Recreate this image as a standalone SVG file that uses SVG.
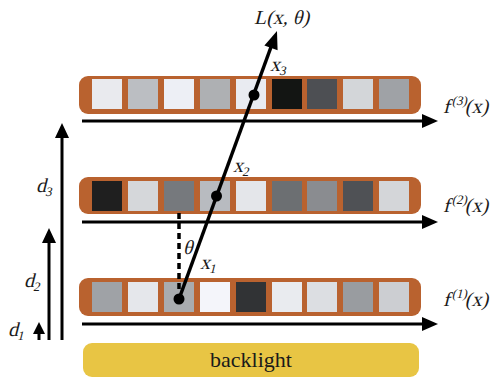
<svg xmlns="http://www.w3.org/2000/svg" width="499" height="378" viewBox="0 0 499 378">
<defs>
<style>
.bar{fill:#B9622F;}
.ax{stroke:#000;stroke-width:3;fill:none;}
.hd{fill:#000;}
</style>
</defs>
<rect width="499" height="378" fill="#fff"/>

<g id="backlight">
<rect x="83" y="343" width="336" height="34" rx="9" fill="#E8C544"/>
<text x="251" y="367" text-anchor="middle" font-family="Liberation Serif" font-size="22" fill="#1a1a1a">backlight</text>
</g>

<g id="layer3">
<rect class="bar" x="79" y="76" width="342" height="38" rx="9"/>
<rect x="92" y="79" width="30" height="30" fill="#E9EAEE"/>
<rect x="128" y="79" width="30" height="30" fill="#BBBEC2"/>
<rect x="164" y="79" width="30" height="30" fill="#EDEFF5"/>
<rect x="200" y="79" width="30" height="30" fill="#AEB0B3"/>
<rect x="236" y="79" width="30" height="30" fill="#E9EBF1"/>
<rect x="272" y="79" width="30" height="30" fill="#131513"/>
<rect x="307" y="79" width="30" height="30" fill="#4D4F53"/>
<rect x="343" y="79" width="30" height="30" fill="#D3D6D9"/>
<rect x="379" y="79" width="30" height="30" fill="#9FA2A6"/>
<text transform="translate(443,113) skewX(-14)" font-family="Liberation Serif" font-size="20" fill="#1a1a1a">f<tspan dy="-8" font-size="13">(3)</tspan><tspan dy="8">(x)</tspan></text>
</g>

<g id="layer2">
<rect class="bar" x="79" y="177" width="342" height="37" rx="9"/>
<rect x="92" y="181" width="30" height="30" fill="#1F1F1F"/>
<rect x="128" y="181" width="30" height="30" fill="#D5D7DA"/>
<rect x="164" y="181" width="30" height="30" fill="#76797D"/>
<rect x="200" y="181" width="30" height="30" fill="#B8BBC0"/>
<rect x="236" y="181" width="30" height="30" fill="#E4E6EA"/>
<rect x="272" y="181" width="30" height="30" fill="#6C6F72"/>
<rect x="307" y="181" width="30" height="30" fill="#8A8C90"/>
<rect x="343" y="181" width="30" height="30" fill="#4F5155"/>
<rect x="379" y="181" width="30" height="30" fill="#D4D6D9"/>
<text transform="translate(443,212) skewX(-14)" font-family="Liberation Serif" font-size="20" fill="#1a1a1a">f<tspan dy="-8" font-size="13">(2)</tspan><tspan dy="8">(x)</tspan></text>
</g>

<g id="layer1">
<rect class="bar" x="79" y="278" width="342" height="38" rx="9"/>
<rect x="92" y="282" width="30" height="30" fill="#9FA2A6"/>
<rect x="128" y="282" width="30" height="30" fill="#E5E7EB"/>
<rect x="164" y="282" width="30" height="30" fill="#A9ACAF"/>
<rect x="200" y="282" width="30" height="30" fill="#F4F5FA"/>
<rect x="236" y="282" width="30" height="30" fill="#313335"/>
<rect x="272" y="282" width="30" height="30" fill="#E9EBEF"/>
<rect x="307" y="282" width="30" height="30" fill="#DCDEE2"/>
<rect x="343" y="282" width="30" height="30" fill="#999CA0"/>
<rect x="379" y="282" width="30" height="30" fill="#CCCED2"/>
<text transform="translate(443,306) skewX(-14)" font-family="Liberation Serif" font-size="20" fill="#1a1a1a">f<tspan dy="-8" font-size="13">(1)</tspan><tspan dy="8">(x)</tspan></text>
</g>

<g id="connectors">
<line class="ax" x1="82" y1="121" x2="425" y2="121"/>
<polygon class="hd" points="438,121 422,114 422,128"/>
<line class="ax" x1="82" y1="222" x2="425" y2="222"/>
<polygon class="hd" points="438,222 422,215 422,229"/>
<line class="ax" x1="82" y1="324" x2="425" y2="324"/>
<polygon class="hd" points="438,324 422,317 422,331"/>
<line class="ax" x1="62" y1="340" x2="62" y2="135"/>
<polygon class="hd" points="62,123 55,138 69,138"/>
<line class="ax" x1="49" y1="340" x2="49" y2="240"/>
<polygon class="hd" points="49,228 42,243 56,243"/>
<line class="ax" x1="39" y1="340" x2="39" y2="333"/>
<polygon class="hd" points="39,322 33,334 45,334"/>
<line x1="179" y1="213" x2="179" y2="293" stroke="#000" stroke-width="3.5" stroke-dasharray="6,4"/>
<line x1="179" y1="299" x2="271" y2="47" stroke="#000" stroke-width="3.5"/>
<polygon class="hd" points="277,31 277.6,50.3 264.4,45.5"/>
<circle cx="179" cy="299" r="5.5" fill="#000"/>
<circle cx="216.5" cy="196" r="5.5" fill="#000"/>
<circle cx="254" cy="95" r="5.5" fill="#000"/>
</g>

<g id="labels">
<text transform="translate(254,24) skewX(-14)" font-family="Liberation Serif" font-size="20" fill="#1a1a1a">L(x, θ)</text>
<text transform="translate(270,71) skewX(-14)" font-family="Liberation Serif" font-size="20" fill="#1a1a1a">x<tspan dy="4" font-size="13">3</tspan></text>
<text transform="translate(233,172) skewX(-14)" font-family="Liberation Serif" font-size="20" fill="#1a1a1a">x<tspan dy="4" font-size="13">2</tspan></text>
<text transform="translate(200,269) skewX(-14)" font-family="Liberation Serif" font-size="20" fill="#1a1a1a">x<tspan dy="4" font-size="13">1</tspan></text>
<text transform="translate(183,254) skewX(-14)" font-family="Liberation Serif" font-size="20" fill="#1a1a1a">θ</text>
<text transform="translate(36,192) skewX(-14)" font-family="Liberation Serif" font-size="20" fill="#1a1a1a">d<tspan dy="4" font-size="13">3</tspan></text>
<text transform="translate(24,287) skewX(-14)" font-family="Liberation Serif" font-size="20" fill="#1a1a1a">d<tspan dy="4" font-size="13">2</tspan></text>
<text transform="translate(8,336) skewX(-14)" font-family="Liberation Serif" font-size="20" fill="#1a1a1a">d<tspan dy="4" font-size="13">1</tspan></text>
</g>
</svg>
